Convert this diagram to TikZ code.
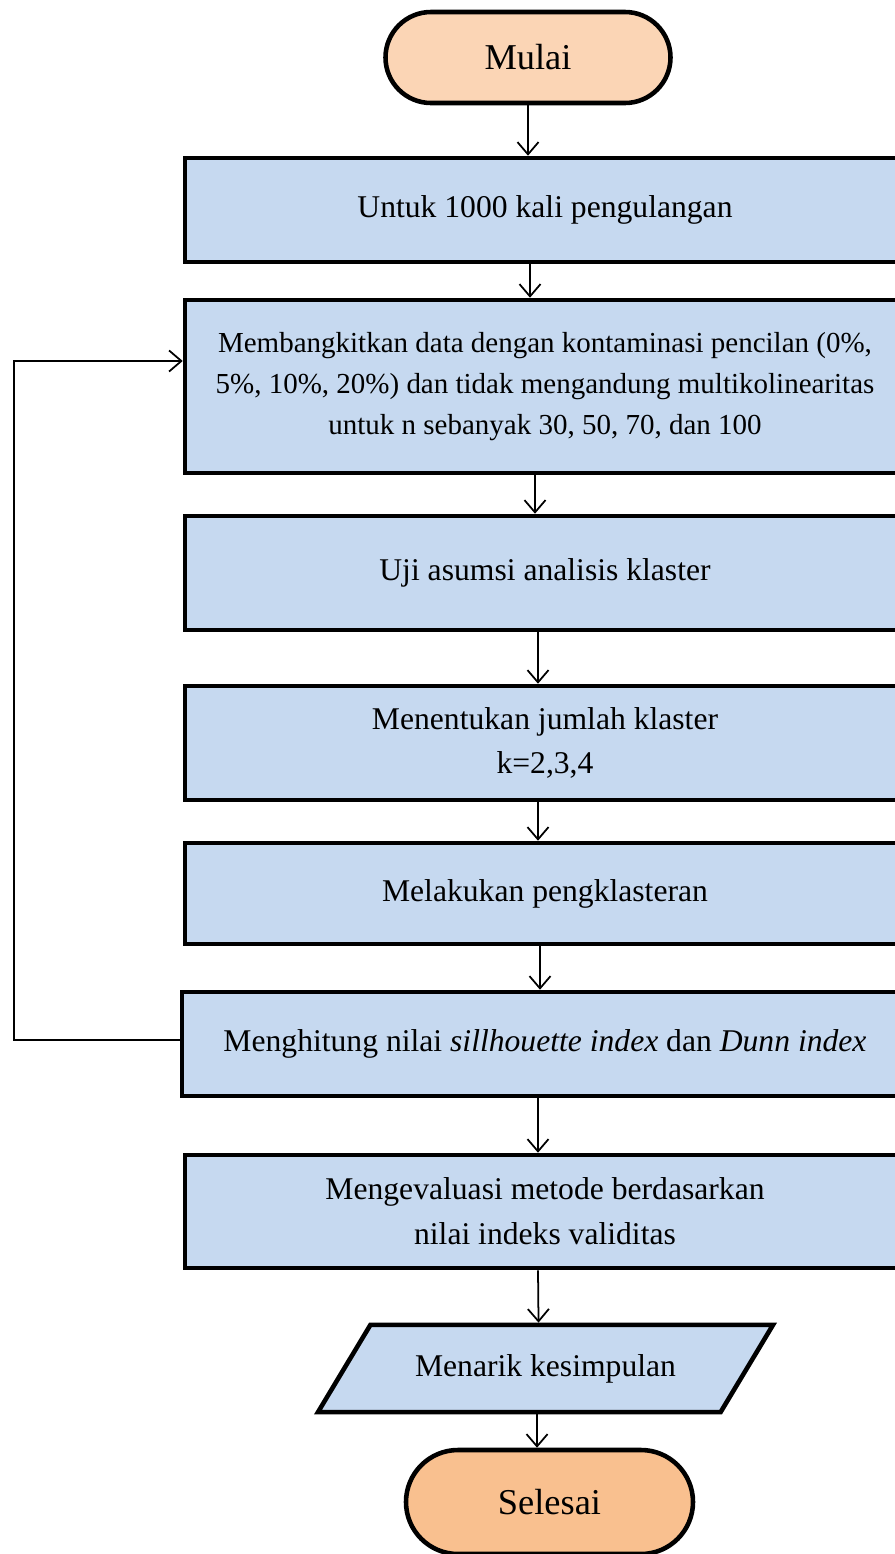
\documentclass[tikz,border=0pt]{standalone}
\usepackage{fontspec}
\setmainfont{Liberation Serif}
\usetikzlibrary{arrows.meta,shapes.geometric}
\definecolor{boxblue}{HTML}{C6D9F0}
\definecolor{startpeach}{HTML}{FBD5B5}
\definecolor{endorange}{HTML}{F9C08F}
\begin{document}
\begin{tikzpicture}[every node/.style={font=\fontsize{18}{25.5}\selectfont},
  stepbox/.style={draw, line width=2.6pt, fill=boxblue, minimum width=14.4cm, align=center, inner sep=0pt},
  term/.style={draw, line width=2.6pt, font=\fontsize{20.7}{24}\selectfont},
  flow/.style={-{Straight Barb[length=7pt,width=12pt]}, line width=1pt}]
  \useasboundingbox (0,0) rectangle (17.9,-31.08);
  % start
  \node[term, fill=startpeach, minimum width=5.7cm, minimum height=1.82cm, rounded corners=0.91cm] (mulai) at (10.56,-1.15) {Mulai};
  % process steps
  \node[stepbox, minimum height=2.08cm] (ulang) at (10.9,-4.2) {Untuk 1000 kali pengulangan};
  \node[stepbox, minimum height=3.46cm, font=\fontsize{16.5}{23.5}\selectfont] (bangkit) at (10.9,-7.73) {Membangkitkan data dengan kontaminasi pencilan (0\%,\\5\%, 10\%, 20\%) dan tidak mengandung multikolinearitas\\untuk n sebanyak 30, 50, 70, dan 100};
  \node[stepbox, minimum height=2.28cm] (uji) at (10.9,-11.46) {Uji asumsi analisis klaster};
  \node[stepbox, minimum height=2.28cm] (jumlah) at (10.9,-14.86) {Menentukan jumlah klaster\\k=2,3,4};
  \node[stepbox, minimum height=2.02cm] (klaster) at (10.9,-17.87) {Melakukan pengklasteran};
  \node[stepbox, minimum height=2.08cm, minimum width=14.52cm] (hitung) at (10.9,-20.88) {Menghitung nilai \textit{sillhouette index} dan \textit{Dunn index}};
  \node[stepbox, minimum height=2.26cm] (evaluasi) at (10.9,-24.23) {Mengevaluasi metode berdasarkan\\nilai indeks validitas};
  % output + end
  \node[draw, line width=2.6pt, fill=boxblue, trapezium, trapezium left angle=59, trapezium right angle=121, trapezium stretches body, minimum width=9.1cm, minimum height=1.74cm, inner xsep=0pt, inner ysep=0.585cm] (simpul) at (10.91,-27.37) {Menarik kesimpulan};
  \node[term, fill=endorange, minimum width=5.74cm, minimum height=2.08cm, rounded corners=1.04cm] (selesai) at (10.99,-30.04) {Selesai};
  % arrows
  \draw[flow] (mulai.south) -- (mulai.south |- ulang.north);
  \draw[flow] ([xshift=-0.3cm]ulang.south) -- ([xshift=-0.3cm]bangkit.north);
  \draw[flow] ([xshift=-0.2cm]bangkit.south) -- ([xshift=-0.2cm]uji.north);
  \draw[flow] ([xshift=-0.14cm]uji.south) -- ([xshift=-0.14cm]jumlah.north);
  \draw[flow] ([xshift=-0.14cm]jumlah.south) -- ([xshift=-0.14cm]klaster.north);
  \draw[flow] ([xshift=-0.1cm]klaster.south) -- ([xshift=-0.1cm]hitung.north);
  \draw[flow] ([xshift=-0.14cm]hitung.south) -- ([xshift=-0.14cm]evaluasi.north);
  \draw[flow] ([xshift=-0.14cm]evaluasi.south) -- ([xshift=-0.14cm]simpul.north);
  \draw[flow] ([xshift=-0.17cm]simpul.south) -- ([xshift=-0.17cm]simpul.south |- selesai.north);
  % loop back
  \coordinate (balik) at (0.28,-7.22);
  \draw[flow] ([yshift=0.08cm]hitung.west) -| (balik) -- (balik -| bangkit.west);
\end{tikzpicture}
\end{document}
